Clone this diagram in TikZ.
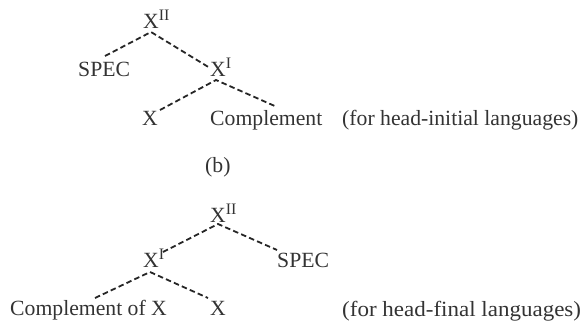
\documentclass[tikz,border=0pt]{standalone}
\usepackage{fontspec}
\setmainfont{Liberation Serif}
% raised roman-numeral bar level
\newcommand{\barlevel}[1]{\raisebox{7.5pt}{\fontsize{16}{16}\selectfont #1}}
\begin{document}
\begin{tikzpicture}[x=1pt,y=-1pt,
  lbl/.style={inner sep=0pt,anchor=base west,text=black!80,font=\fontsize{21.7}{26}\selectfont},
  branch/.style={draw=black!85,line width=1.8pt,dash pattern=on 5.5pt off 3.2pt}]
\useasboundingbox (0,0) rectangle (582,324);

% head-initial tree
\node[lbl] (a2) at (143,28) {X\barlevel{II}};
\node[lbl] (aspec) at (78,76) {SPEC};
\node[lbl] (a1) at (210,76) {X\barlevel{I}};
\node[lbl] (ax) at (142,125) {X};
\node[lbl] (acomp) at (210,125) {Complement};
\node[lbl] (anote) at (342,125) {(for head-initial languages)};

\coordinate (a2top) at (151,32);
\coordinate (aspecend) at (105,56);
\coordinate (a1end) at (210,68);
\coordinate (a1top) at (216,80);
\coordinate (axend) at (160,110);
\coordinate (acompend) at (277,107);
\draw[branch] (aspecend) -- (a2top) -- (a1end);
\draw[branch] (axend) -- (a1top) -- (acompend);

% caption
\node[lbl] (cap) at (205,172) {(b)};

% head-final tree
\node[lbl] (b2) at (210,222) {X\barlevel{II}};
\node[lbl] (b1) at (143,267) {X\barlevel{I}};
\node[lbl] (bspec) at (277,267) {SPEC};
\node[lbl] (bcomp) at (10,315) {Complement of X};
\node[lbl] (bx) at (210,315) {X};
\node[lbl] (bnote) at (342,316) {\scalebox{1.06}[1]{(for head-final languages)}};

\coordinate (b2top) at (218,224);
\coordinate (b1end) at (163,252);
\coordinate (bspecend) at (277,250);
\coordinate (b1top) at (150,272);
\coordinate (bcompend) at (95,298);
\coordinate (bxend) at (208,298);
\draw[branch] (b1end) -- (b2top) -- (bspecend);
\draw[branch] (bcompend) -- (b1top) -- (bxend);
\end{tikzpicture}
\end{document}
